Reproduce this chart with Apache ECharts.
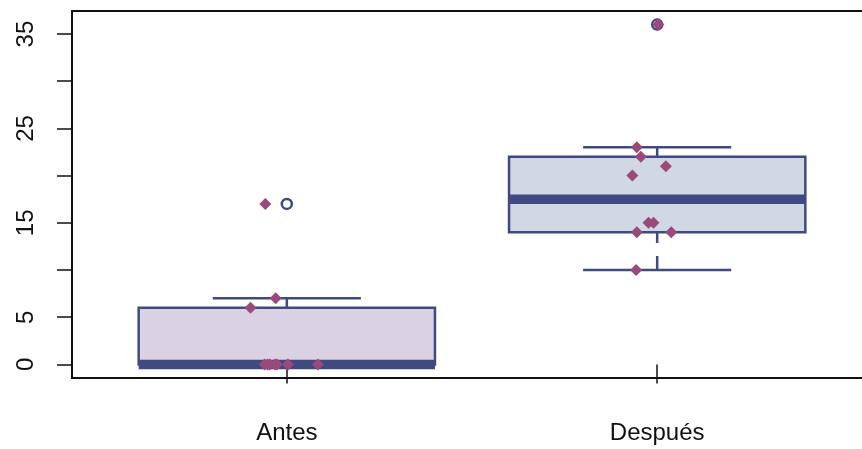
<!DOCTYPE html>
<html>
<head>
<meta charset="utf-8">
<script src="https://cdn.jsdelivr.net/npm/echarts@6/dist/echarts.min.js"></script>
<style>
html,body{margin:0;padding:0;background:#fff;overflow:hidden;}
#chart{width:862px;height:449px;}
</style>
</head>
<body>
<div id="chart"></div>
<script>
// ---- data ----
const categories = ['Antes', 'Después'];
const antesValues   = [0, 0, 0, 0, 0, 0, 0, 6, 7, 17];
const antesJitter   = [-0.060, -0.052, -0.046, -0.032, -0.027, 0.003, 0.084, -0.098, -0.030, -0.058];
const despuesValues = [10, 14, 14, 15, 15, 20, 21, 22, 23, 36];
const despuesJitter = [-0.057, -0.055, 0.038, -0.0235, -0.010, -0.067, 0.0235, -0.044, -0.055, 0.003];
const yTickValues  = [0, 5, 10, 15, 20, 25, 30, 35];
const yLabelValues = [0, 5, 15, 25, 35];

// ---- styles ----
const NAVY = '#3e4a80';
const MAUVE = '#9a4a7a';
const boxFills = ['#dad1e3', '#d0d8e3'];

// R-style boxplot statistics (fivenum hinges, 1.5*IQR whiskers)
function median(a) {
  const n = a.length, m = Math.floor(n / 2);
  return n % 2 ? a[m] : (a[m - 1] + a[m]) / 2;
}
function boxStats(values) {
  const s = values.slice().sort((a, b) => a - b);
  const n = s.length;
  const half = Math.floor((n + 1) / 2);
  const lower = s.slice(0, half);
  const upper = s.slice(n - half);
  const q1 = median(lower), med = median(s), q3 = median(upper);
  const iqr = q3 - q1;
  const inside = s.filter(v => v >= q1 - 1.5 * iqr && v <= q3 + 1.5 * iqr);
  const lo = Math.min(...inside), hi = Math.max(...inside);
  const out = s.filter(v => v < q1 - 1.5 * iqr || v > q3 + 1.5 * iqr);
  return { lo, q1, med, q3, hi, out };
}

const groups = [antesValues, despuesValues];
const jitters = [antesJitter, despuesJitter];
const boxData = [];
const outlierData = [];
const pointData = [];
groups.forEach((vals, i) => {
  const st = boxStats(vals);
  const x = i + 1;
  boxData.push([x, st.lo, st.q1, st.med, st.q3, st.hi, i]);
  st.out.forEach(v => outlierData.push([x, v]));
  vals.forEach((v, j) => pointData.push([x + jitters[i][j], v]));
});

const chart = echarts.init(document.getElementById('chart'), null, { renderer: 'canvas' });
const FONT = 'Liberation Sans, Arial, sans-serif';

chart.setOption({
  animation: false,
  backgroundColor: '#fff',
  grid: {
    left: 72, top: 11, width: 800, height: 367,
    outerBoundsMode: 'none',
    containLabel: false,
    show: true, borderColor: '#111', borderWidth: 2, backgroundColor: 'transparent'
  },
  xAxis: {
    type: 'value', min: 0.42, max: 2.58,
    splitLine: { show: false },
    axisLine: { show: false },
    axisTick: { show: true, length: 19, customValues: [1, 2], lineStyle: { color: '#111', width: 1.5 } },
    axisLabel: {
      show: true, customValues: [1, 2], margin: 43,
      formatter: v => categories[Math.round(v) - 1],
      fontSize: 24, fontFamily: FONT, color: '#111'
    }
  },
  yAxis: {
    type: 'value', min: -1.44, max: 37.44,
    splitLine: { show: false },
    axisLine: { show: false },
    axisTick: { show: true, length: 15, customValues: yTickValues, lineStyle: { color: '#111', width: 1.5 } },
    axisLabel: {
      show: true, customValues: yLabelValues, rotate: 90, margin: 34,
      fontSize: 24, fontFamily: FONT, color: '#111'
    }
  },
  series: [
    {
      type: 'custom',
      data: boxData,
      z: 2,
      renderItem: function (params, api) {
        const x = api.value(0), lo = api.value(1), q1 = api.value(2), med = api.value(3),
              q3 = api.value(4), hi = api.value(5), idx = api.value(6);
        const tl = api.coord([x - 0.4, q3]);
        const br = api.coord([x + 0.4, q1]);
        const mL = api.coord([x - 0.4, med]);
        const mR = api.coord([x + 0.4, med]);
        const cHi = api.coord([x, hi]);
        const cQ3 = api.coord([x, q3]);
        const cLo = api.coord([x, lo]);
        const cQ1 = api.coord([x, q1]);
        const capHL = api.coord([x - 0.2, hi]), capHR = api.coord([x + 0.2, hi]);
        const capLL = api.coord([x - 0.2, lo]), capLR = api.coord([x + 0.2, lo]);
        const wStyle = { stroke: NAVY, lineWidth: 2.5, lineDash: [14, 13], fill: null };
        const cStyle = { stroke: NAVY, lineWidth: 2.5, fill: null };
        return {
          type: 'group',
          children: [
            { type: 'line', shape: { x1: cHi[0], y1: cHi[1], x2: cQ3[0], y2: cQ3[1] }, style: wStyle },
            { type: 'line', shape: { x1: cLo[0], y1: cLo[1], x2: cQ1[0], y2: cQ1[1] }, style: wStyle },
            { type: 'line', shape: { x1: capHL[0], y1: capHL[1], x2: capHR[0], y2: capHR[1] }, style: cStyle },
            { type: 'line', shape: { x1: capLL[0], y1: capLL[1], x2: capLR[0], y2: capLR[1] }, style: cStyle },
            { type: 'rect', shape: { x: tl[0], y: tl[1], width: br[0] - tl[0], height: br[1] - tl[1] },
              style: { fill: boxFills[idx], stroke: NAVY, lineWidth: 2.5 } },
            { type: 'line', shape: { x1: mL[0], y1: mL[1], x2: mR[0], y2: mR[1] },
              style: { stroke: NAVY, lineWidth: 9.5, lineCap: 'butt' } }
          ]
        };
      }
    },
    {
      type: 'scatter',
      data: outlierData,
      z: 3,
      symbol: 'circle',
      symbolSize: 10,
      itemStyle: { color: '#fff', borderColor: NAVY, borderWidth: 2.5, opacity: 1 }
    },
    {
      type: 'scatter',
      data: pointData,
      z: 4,
      symbol: 'diamond',
      symbolSize: [12, 12],
      itemStyle: { color: MAUVE, opacity: 1 }
    }
  ]
});
</script>
</body>
</html>
